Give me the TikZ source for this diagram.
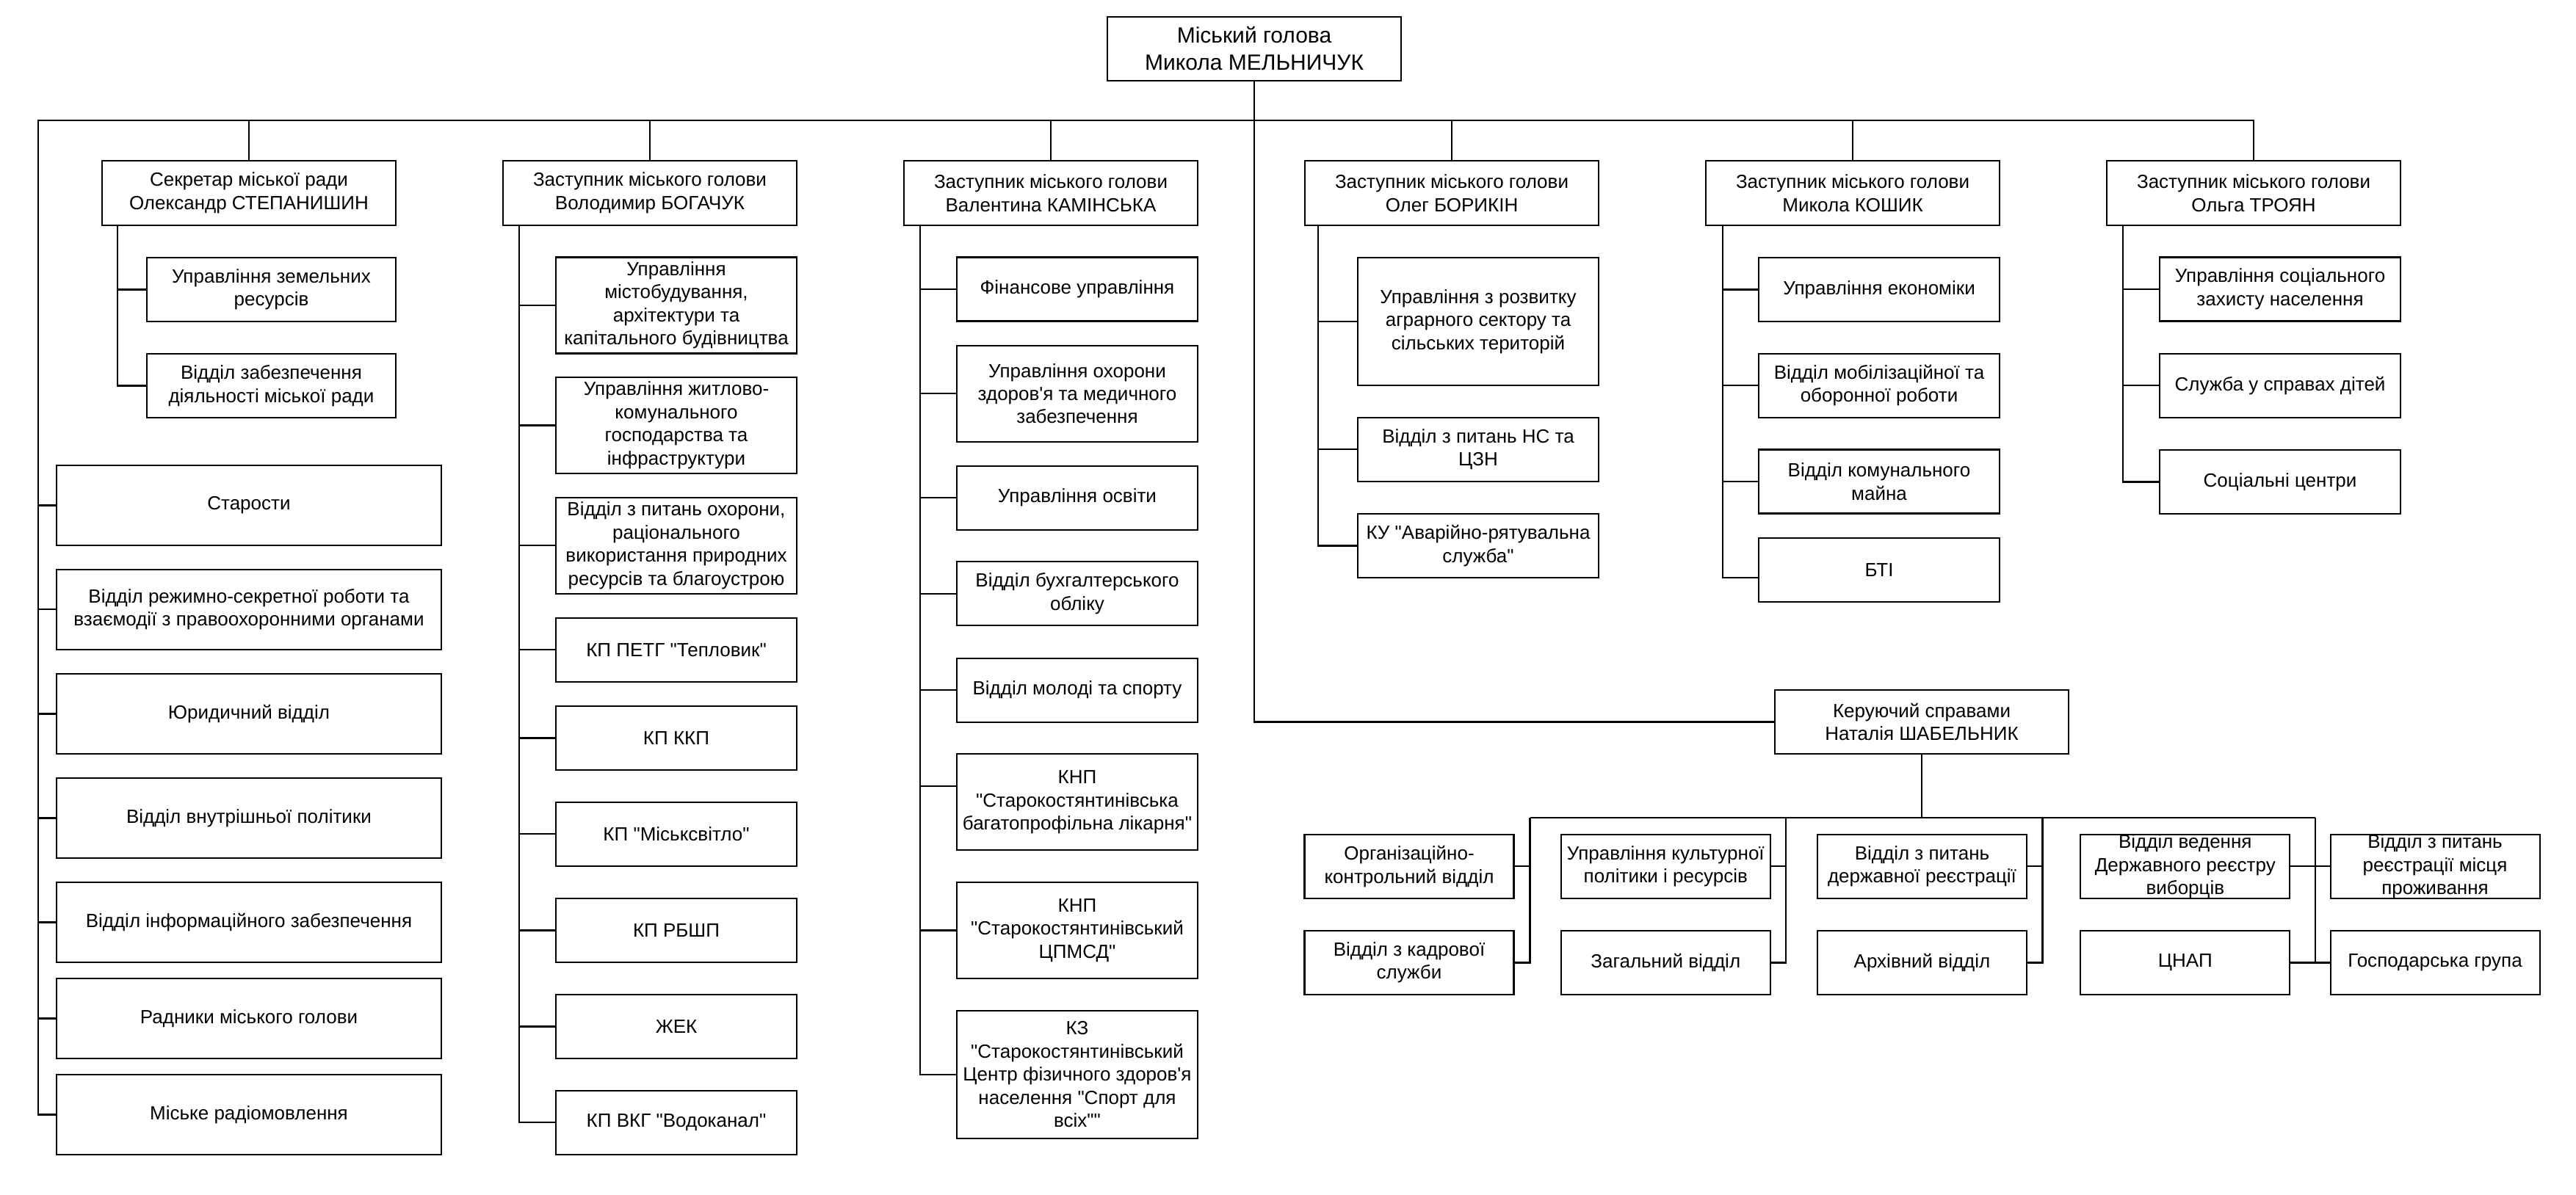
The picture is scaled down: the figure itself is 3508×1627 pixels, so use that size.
\documentclass[tikz,border=0pt]{standalone}
\usepackage{fontspec}
\setmainfont{Liberation Sans}[Ligatures=TeXOff]
\usetikzlibrary{calc}
\tikzset{
  box/.style={draw, line width=0.6pt, align=center, inner sep=0pt, font=\fontsize{7.4}{8.96}\selectfont},
  headbox/.style={box, minimum width=40mm, minimum height=8.73mm, font=\fontsize{8.54}{10.45}\selectfont},
  deputy/.style={box, minimum width=40mm, minimum height=8.8mm},
  secsub/.style={box, minimum width=33.9mm, minimum height=8.7mm},
  leftbox/.style={box, minimum width=52.4mm, minimum height=10.85mm},
  sub/.style={box, minimum width=32.8mm, minimum height=8.7mm},
  subtall/.style={box, minimum width=32.8mm, minimum height=13.1mm},
  subxl/.style={box, minimum width=32.8mm, minimum height=17.4mm},
  bottombox/.style={box, minimum width=28.5mm, minimum height=8.73mm},
  conn/.style={line width=0.6pt},
}
\begin{document}
\begin{tikzpicture}[x=0.1mm,y=-0.1mm]
\fill[white] (0,0) rectangle (3508,1627);
\useasboundingbox (0,0) rectangle (3508,1627);

% head
\node[headbox] (head) at (1708,66.3) {Міський голова\\Микола МЕЛЬНИЧУК};

% deputies
\node[deputy] (sec) at (339,263) {Секретар міської ради\\Олександр СТЕПАНИШИН};
\node[deputy] (bog) at (885,263) {Заступник міського голови\\Володимир БОГАЧУК};
\node[deputy] (kam) at (1431,263) {Заступник міського голови\\Валентина КАМІНСЬКА};
\node[deputy] (bor) at (1977,263) {Заступник міського голови\\Олег БОРИКІН};
\node[deputy] (kos) at (2523,263) {Заступник міського голови\\Микола КОШИК};
\node[deputy] (tro) at (3069,263) {Заступник міського голови\\Ольга ТРОЯН};

% secretary subs
\node[secsub] (s1) at (369.5,394.5) {Управління земельних\\ресурсів};
\node[secsub] (s2) at (369.5,525.5) {Відділ забезпечення\\діяльності міської ради};

% left column
\node[leftbox] (l1) at (339,688.5) {Старости};
\node[leftbox] (l2) at (339,830.3) {Відділ режимно-секретної роботи та\\взаємодії з правоохоронними органами};
\node[leftbox] (l3) at (339,972.5) {Юридичний відділ};
\node[leftbox] (l4) at (339,1114.5) {Відділ внутрішньої політики};
\node[leftbox] (l5) at (339,1256.5) {Відділ інформаційного забезпечення};
\node[leftbox] (l6) at (339,1387.5) {Радники міського голови};
\node[leftbox] (l7) at (339,1518.5) {Міське радіомовлення};

% Bogachuk subs
\node[subtall] (b1) at (921,416) {Управління\\містобудування,\\архітектури та\\капітального будівництва};
\node[subtall] (b2) at (921,579.5) {Управління житлово-\\комунального\\господарства та\\інфраструктури};
\node[subtall] (b3) at (921,743.4) {Відділ з питань охорони,\\раціонального\\використання природних\\ресурсів та благоустрою};
\node[sub] (b4) at (921,885.2) {КП ПЕТГ "Тепловик"};
\node[sub] (b5) at (921,1005.5) {КП ККП};
\node[sub] (b6) at (921,1136.4) {КП "Міськсвітло"};
\node[sub] (b7) at (921,1267.5) {КП РБШП};
\node[sub] (b8) at (921,1398.5) {ЖЕК};
\node[sub] (b9) at (921,1529.4) {КП ВКГ "Водоканал"};

% Kaminska subs
\node[sub] (k1) at (1467,394) {Фінансове управління};
\node[subtall] (k2) at (1467,536.2) {Управління охорони\\здоров'я та медичного\\забезпечення};
\node[sub] (k3) at (1467,678.2) {Управління освіти};
\node[sub] (k4) at (1467,808.9) {Відділ бухгалтерського\\обліку};
\node[sub] (k5) at (1467,940.2) {Відділ молоді та спорту};
\node[subtall] (k6) at (1467,1092.8) {КНП\\"Старокостянтинівська\\багатопрофільна лікарня"};
\node[subtall] (k7) at (1467,1267.5) {КНП\\"Старокостянтинівський\\ЦПМСД"};
\node[subxl] (k8) at (1467,1464) {КЗ\\"Старокостянтинівський\\Центр фізичного здоров'я\\населення "Спорт для\\всіх""};

% Borykin subs
\node[subxl] (o1) at (2013,438) {Управління з розвитку\\аграрного сектору та\\сільських територій};
\node[sub] (o2) at (2013,612.3) {Відділ з питань НС та\\ЦЗН};
\node[sub] (o3) at (2013,743.5) {КУ "Аварійно-рятувальна\\служба"};

% Koshyk subs
\node[sub] (m1) at (2559,394.5) {Управління економіки};
\node[sub] (m2) at (2559,525.2) {Відділ мобілізаційної та\\оборонної роботи};
\node[sub] (m3) at (2559,656) {Відділ комунального\\майна};
\node[sub] (m4) at (2559,776.1) {БТІ};

% Troyan subs
\node[sub] (t1) at (3105,394) {Управління соціального\\захисту населення};
\node[sub] (t2) at (3105,525.2) {Служба у справах дітей};
\node[sub] (t3) at (3105,656.5) {Соціальні центри};

% Keruyuchyi
\node[deputy, minimum height=8.73mm] (ker) at (2617,983.5) {Керуючий справами\\Наталія ШАБЕЛЬНИК};

% bottom boxes
\node[bottombox] (g1) at (1919,1180.3) {Організаційно-\\контрольний відділ};
\node[bottombox] (g2) at (1919,1311.5) {Відділ з кадрової\\служби};
\node[bottombox] (g3) at (2268.3,1180.3) {Управління культурної\\політики і ресурсів};
\node[bottombox] (g4) at (2268.3,1311.5) {Загальний відділ};
\node[bottombox] (g5) at (2617.5,1180.3) {Відділ з питань\\державної реєстрації};
\node[bottombox] (g6) at (2617.5,1311.5) {Архівний відділ};
\node[bottombox] (g7) at (2975.8,1180.3) {Відділ ведення\\Державного реєстру\\виборців};
\node[bottombox] (g8) at (2975.8,1311.5) {ЦНАП};
\node[bottombox] (g9) at (3316,1180.3) {Відділ з питань\\реєстрації місця\\проживання};
\node[bottombox] (g10) at (3316,1311.5) {Господарська група};

% ---------- connectors ----------
\coordinate (busL) at (52,164);
\draw[conn] (head.south) |- (ker.west);
\draw[conn] (tro.north) |- (busL) |- (l7.west);
\foreach \n in {sec,bog,kam,bor,kos} \draw[conn] (\n.north |- busL) -- (\n.north);
\foreach \n in {l1,l2,l3,l4,l5,l6} \draw[conn] (busL |- \n.west) -- (\n.west);

% trunks
\coordinate (tS) at (160,0);
\coordinate (tB) at (707,0);
\coordinate (tK) at (1253,0);
\coordinate (tO) at (1795,0);
\coordinate (tM) at (2345.6,0);
\coordinate (tT) at (2891,0);
\foreach \n in {s1,s2} \draw[conn] (sec.south -| tS) |- (\n.west);
\foreach \n in {b1,b2,b3,b4,b5,b6,b7,b8,b9} \draw[conn] (bog.south -| tB) |- (\n.west);
\foreach \n in {k1,k2,k3,k4,k5,k7,k8} \draw[conn] (kam.south -| tK) |- (\n.west);
\coordinate (k6in) at ($(k6.west)+(0,-21.8)$);
\draw[conn] (kam.south -| tK) |- (k6in);
\foreach \n in {o1,o2,o3} \draw[conn] (bor.south -| tO) |- (\n.west);
\foreach \n in {m1,m2,m3} \draw[conn] (kos.south -| tM) |- (\n.west);
\coordinate (m4in) at ($(m4.west)+(0,11)$);
\draw[conn] (kos.south -| tM) |- (m4in);
\foreach \n in {t1,t2,t3} \draw[conn] (tro.south -| tT) |- (\n.west);

% bottom bus
\coordinate (d1) at (2083.5,1114);
\coordinate (d2) at (2432,1114);
\coordinate (d3) at (2781.5,1114);
\coordinate (d4) at (3153,1114);
\draw[conn] (ker.south) -- (ker.south |- d1);
\draw[conn] (d1) -- (d4);
\foreach \n in {g1,g2} \draw[conn] (d1) |- (\n.east);
\foreach \n in {g3,g4} \draw[conn] (d2) |- (\n.east);
\foreach \n in {g5,g6} \draw[conn] (d3) |- (\n.east);
\foreach \n in {g7,g8} \draw[conn] (d4) |- (\n.east);
\foreach \n in {g9,g10} \draw[conn] (d4) |- (\n.west);
\end{tikzpicture}
\end{document}
